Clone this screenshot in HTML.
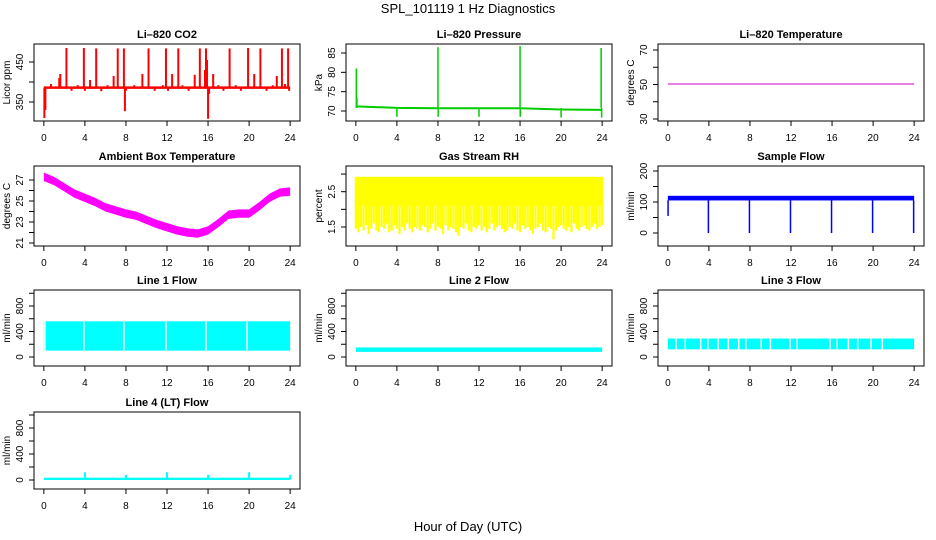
<!DOCTYPE html>
<html><head><meta charset="utf-8"><style>
body{margin:0;background:#fff;}
svg{display:block;font-family:"Liberation Sans",Arial,sans-serif;}
</style></head><body>
<svg id="c" width="936" height="540" viewBox="0 0 936 540">
<text x="468" y="13" text-anchor="middle" font-size="13">SPL_101119  1 Hz Diagnostics</text>
<text x="468" y="531" text-anchor="middle" font-size="13">Hour of Day (UTC)</text>
</svg>
<script>
// ---- data ----
const xTicks=[0,4,8,12,16,20,24];
const co2Base=[[0,386],[16,386],[24,386]];
const co2Spikes=[[0.05,310],[0.15,330],[0.7,395],[1.5,410],[1.6,420],[2.2,485],[2.7,378],[3.3,392],[3.9,485],[4.0,378],[4.5,405],[5.1,484],[5.6,377],[6.2,392],[6.8,415],[7.2,484],[7.8,484],[7.9,327],[8.0,378],[8.8,392],[9.6,420],[10.2,484],[10.8,378],[11.6,392],[11.9,484],[12.1,378],[12.5,420],[13.1,484],[13.5,392],[14.1,378],[14.7,418],[15.2,484],[15.7,430],[15.8,484],[15.9,455],[16.0,308],[16.1,370],[16.5,420],[17.0,392],[17.5,378],[18.1,484],[18.7,392],[19.2,378],[19.9,485],[20.5,420],[21.1,484],[21.7,378],[22.3,392],[22.7,415],[23.2,484],[23.5,395],[23.8,484],[23.9,378]];
const presBase=[[0,71.2],[4,70.8],[8,70.7],[12,70.7],[16,70.7],[20,70.4],[24,70.3]];
const presSpikes=[[0.05,81],[0.1,73.5],[4,68.5],[8,86.5],[8.02,68.5],[12,68.5],[16,86.8],[16.02,68.5],[20,68.3],[23.9,86.3],[23.95,68.3]];
const tempVal=[[0,50.3],[24,50.3]];
const ambHours=[0,1,2,3,4,5,6,7,8,9,10,11,12,13,14,15,16,17,18,19,20,21,22,23,24];
const ambMid=[27.3,26.9,26.3,25.7,25.3,24.9,24.4,24.1,23.8,23.6,23.2,22.8,22.5,22.2,22.0,21.9,22.2,22.9,23.7,23.8,23.8,24.5,25.3,25.8,25.9];
const rhTop=2.92, rhSolidLow=2.1;
const rhLows=[1.45,1.35,1.5,1.4,1.55,1.3,1.45,1.6,1.4,1.35,1.5,1.45,1.6,1.35,1.4,1.55,1.45,1.3,1.5,1.4,1.6,1.45,1.35,1.5,1.45,1.4,1.55,1.5,1.35,1.45,1.6,1.4,1.5,1.45,1.3,1.55,1.4,1.5,1.45,1.35,1.25,1.5,1.45,1.6,1.4,1.35,1.5,1.45,1.55,1.4,1.5,1.35,1.45,1.6,1.4,1.5,1.55,1.45,1.35,1.4,1.5,1.45,1.6,1.4,1.35,1.55,1.45,1.5,1.4,1.3,1.45,1.5,1.6,1.4,1.35,1.5,1.45,1.15,1.4,1.5,1.55,1.45,1.4,1.5,1.35,1.6,1.45,1.4,1.5,1.55,1.45,1.4,1.5,1.6,1.45,1.5,1.55];
const sampleLow=105, sampleHigh=120;
const sampleDips=[4,8,12,16,20,24];
const flow1=[100,560], flow1Gaps=[0.1,3.9,7.8,11.9,15.8,19.8];
const flow2=[80,150], flow2Gaps=[];
const flow3=[120,290], flow3Gaps=[0.8,1.7,3.2,3.9,4.9,5.9,6.9,7.6,9.1,10.0,11.9,12.6,15.8,16.5,17.6,18.5,19.8,20.9];
const flow4Base=10;
const flow4Spikes=[[4,120],[8,80],[12,120],[16,80],[20,120],[24,80]];

const NS="http://www.w3.org/2000/svg";
const svg=document.getElementById('c');
function el(t,a,p){const e=document.createElementNS(NS,t);for(const k in a)e.setAttribute(k,a[k]);(p||svg).appendChild(e);return e;}

const cols=[34,346,658], rows=[[44,121],[166,246],[290,366],[412,489]];
function panel(name,title,ci,ri,yt,ylab,yTicks,yLabels,vA,pA,vB,pB){
  const x0=cols[ci],x1=x0+266,[y0,y1]=rows[ri];
  const g=el('g',{});
  
  
  const X=h=>x0+9.85+h*246.3/24;
  const Y=v=>pA+(v-vA)*(pB-pA)/(vB-vA);
  const t=el('text',{x:(x0+x1)/2,y:y0-6,'text-anchor':'middle','font-size':11,'font-weight':'bold'},g);t.textContent=title;
  
  const plot=el('g',{},g);
  
  el('rect',{x:x0,y:y0,width:266,height:y1-y0,fill:'none',stroke:'#000','stroke-width':1},g);
  el('line',{x1:X(0),x2:X(24),y1:y1,y2:y1,stroke:'#000'},g);
  xTicks.forEach(h=>{el('line',{x1:X(h),x2:X(h),y1:y1,y2:y1+5,stroke:'#000'},g);
    const l=el('text',{x:X(h),y:y1+20,'text-anchor':'middle','font-size':10},g);l.textContent=h;
    });
  el('line',{x1:x0,x2:x0,y1:Y(yTicks[0]),y2:Y(yTicks[yTicks.length-1]),stroke:'#000'},g);
  yTicks.forEach((v,i)=>{const yy=Y(v);el('line',{x1:x0-5,x2:x0,y1:yy,y2:yy,stroke:'#000'},g);
    if(yLabels[i]){const l=el('text',{x:0,y:0,'text-anchor':'middle','font-size':10,transform:`translate(${x0-11},${yy}) rotate(-90)`},g);l.textContent=yLabels[i];
    }});
  const yl=el('text',{x:0,y:0,'text-anchor':'middle','font-size':10,transform:`translate(${x0-24},${(y0+y1)/2}) rotate(-90)`},g);yl.textContent=ylab;
  
  return {X,Y,plot};
}
function line(p,pts,color,w){el('polyline',{points:pts.map(q=>p.X(q[0])+','+p.Y(q[1])).join(' '),fill:'none',stroke:color,'stroke-width':w||1},p.plot);}
function vl(p,h,a,b,color,w){el('line',{x1:p.X(h),x2:p.X(h),y1:p.Y(a),y2:p.Y(b),stroke:color,'stroke-width':w||1.5},p.plot);}
function band(p,lo,hi,color){el('rect',{x:p.X(0),y:p.Y(hi),width:p.X(24)-p.X(0),height:p.Y(lo)-p.Y(hi),fill:color},p.plot);}

let p=panel('panel-co2','Li\u2013820 CO2',0,0,0,'Licor ppm',[350,400,450],['350','','450'],350,102,450,62);
line(p,co2Base,'#f00',2.5);
co2Spikes.forEach(s=>vl(p,s[0],386,s[1],'#f00',2));
p=panel('panel-pressure','Li\u2013820 Pressure',1,0,0,'kPa',[70,75,80,85],['70','75','80','85'],70,111,85,53);
line(p,presBase,'#0c0',2);
presSpikes.forEach(s=>vl(p,s[0],70.8,s[1],'#0c0',1.5));
p=panel('panel-temperature','Li\u2013820 Temperature',2,0,0,'degrees C',[30,40,50,60,70],['30','','50','','70'],30,119,70,50);
line(p,tempVal,'#c0c',1);
p=panel('panel-ambient','Ambient Box Temperature',0,1,0,'degrees C',[21,22,23,24,25,26,27],['21','','23','','25','','27'],21,243,27,180);
{const up=ambHours.map((h,i)=>p.X(h)+','+p.Y(ambMid[i]+0.4)),dn=ambHours.map((h,i)=>p.X(h)+','+p.Y(ambMid[i]-0.4)).reverse();
el('polygon',{points:up.concat(dn).join(' '),fill:'#f0f'},p.plot);}
p=panel('panel-rh','Gas Stream RH',1,1,0,'percent',[1.5,2,2.5,3],['1.5','','2.5',''],1.5,227,2.5,191.7);
band(p,rhSolidLow,rhTop,'#ff0');
rhLows.forEach((v,i)=>vl(p,i*24/96,rhTop,v,'#ff0',2.2));
p=panel('panel-sample-flow','Sample Flow',2,1,0,'ml/min',[0,50,100,150,200],['0','','100','','200'],0,233,200,171);
band(p,sampleLow,sampleHigh,'#00f');
vl(p,0.02,sampleLow,55,'#00f',1.5);
sampleDips.forEach(h=>vl(p,h-0.05,sampleLow,0,'#00f',1.5));
function flowPanel(name,title,ci,ri,rng,gaps){
  const z=ri===2?357:480, e=ri===2?306:428;
  const q=panel(name,title,ci,ri,0,'ml/min',[0,200,400,600,800,1000],['0','','400','','800',''],0,z,800,e);
  band(q,rng[0],rng[1],'#0ff');
  gaps.forEach(h=>vl(q,h,rng[0]-5,rng[1]+5,'#fff',1.5));
  return q;
}
flowPanel('panel-line1-flow','Line 1 Flow',0,2,flow1,flow1Gaps);
flowPanel('panel-line2-flow','Line 2 Flow',1,2,flow2,flow2Gaps);
flowPanel('panel-line3-flow','Line 3 Flow',2,2,flow3,flow3Gaps);
p=flowPanel('panel-line4-flow','Line 4 (LT) Flow',0,3,[0,35],[]);
flow4Spikes.forEach(s=>vl(p,s[0],flow4Base,s[1],'#0ff',2));
</script>
</body></html>
